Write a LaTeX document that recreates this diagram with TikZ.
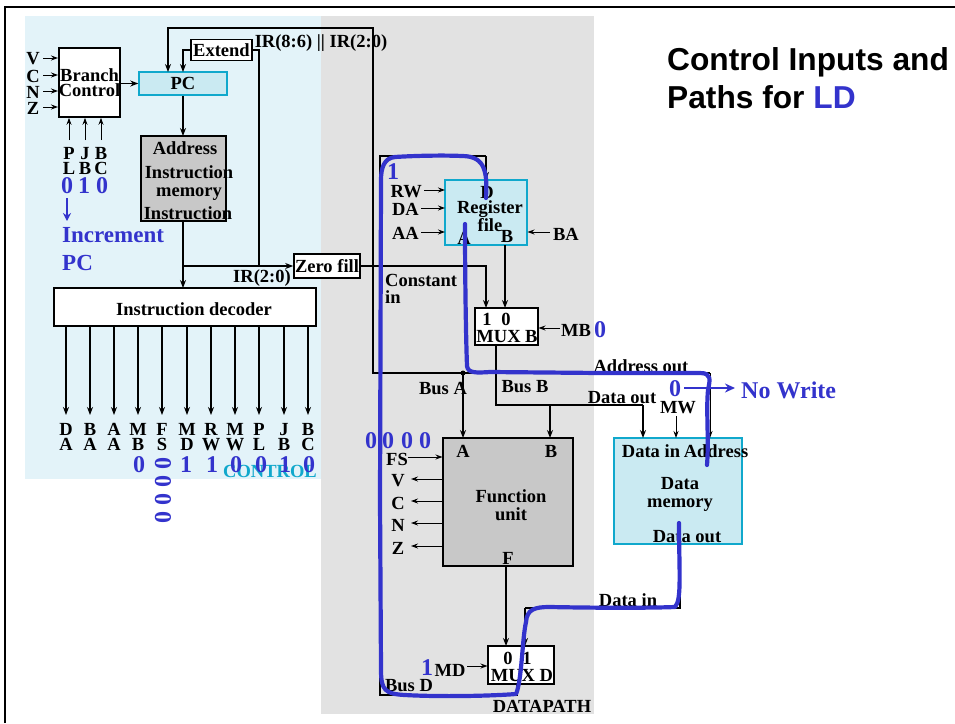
\documentclass[tikz,border=0pt]{standalone}
\usepackage{fontspec}
\setmainfont{Liberation Serif}
\newfontfamily\headfont{Liberation Sans}
\usetikzlibrary{arrows.meta}
\definecolor{ctlblue}{HTML}{E3F3F9}
\definecolor{dpgrey}{HTML}{E2E2E2}
\definecolor{regfill}{HTML}{CAEAF2}
\definecolor{regline}{HTML}{10A8CC}
\definecolor{memgrey}{HTML}{C8C8C8}
\definecolor{pen}{HTML}{3333CC}
\newcommand{\lab}{\fontsize{18.5}{15}\selectfont\bfseries}
\newcommand{\labwide}{\fontsize{18.5}{18}\selectfont\bfseries}
\newcommand{\digit}{\fontsize{24}{24}\selectfont\bfseries}
\tikzset{
   every node/.style={inner sep=0, font=\lab, align=center},
   box/.style={draw, line width=1.6, fill=white},
   greybox/.style={draw, line width=1.6, fill=memgrey, font=\labwide},
   regbox/.style={draw=regline, line width=1.5, fill=regfill, font=\labwide},
   wire/.style={line width=1.3, -{Stealth[length=8,width=6]}},
   plain/.style={line width=1.3},
   thin wire/.style={line width=1, -{Stealth[length=7,width=5]}},
   mark pen/.style={draw=pen, line width=4.2, line cap=round, line join=round},
   pentext/.style={text=pen, font=\digit},
}
\begin{document}
\begin{tikzpicture}[x=1pt, y=-1pt]
   \useasboundingbox (0,0) rectangle (955,723);
   % Backgrounds and frame
   \fill[ctlblue] (25,16) rectangle (321,479);
   \fill[dpgrey] (321,16) rectangle (594,714);
   \draw[line width=2.6] (5,723) -- (5,7) -- (955,7);

   % Control blocks
   \node[box, minimum width=61, minimum height=69] (branch) at (89.5,82.5) {Branch\\Control};
   \node[regbox, font=\lab, minimum width=88, minimum height=23] (pc) at (183,83.5) {PC};
   \node[box, minimum width=61, minimum height=21] (extend) at (221.5,50) {Extend};
   \node[greybox, minimum width=85, minimum height=85] (imem) at (183.5,178.5) {};
   \node (imemaddr) at (185,148) {Address};
   \node[font=\labwide] (imemname) at (189,183) {Instruction\\memory};
   \node (imeminstr) at (188,213) {Instruction};
   \node[box, minimum width=262, minimum height=38] (decoder) at (185,307) {};
   \node (decodername) at (194,309) {Instruction decoder};
   \node[box, minimum width=66, minimum height=24] (zerofill) at (327,266) {Zero fill};

   % Datapath blocks
   \node[regbox, minimum width=82, minimum height=65] (regfile) at (486,212.5) {};
   \node[font=\labwide] (regname) at (490,216) {Register\\file};
   \node (regd) at (487,192) {D};
   \node (rega) at (464,238) {A};
   \node (regb) at (507,236) {B};
   \node[box, minimum width=63, minimum height=37] (muxb) at (506.5,326.5) {};
   \node (muxbone) at (487,319) {1};
   \node (muxbzero) at (506,319) {0};
   \node (muxbname) at (507,337) {MUX B};
   \node[greybox, minimum width=130, minimum height=128] (fu) at (508,502) {};
   \node[font=\labwide] (funame) at (511,505) {Function\\unit};
   \node (fua) at (463,451) {A};
   \node (fub) at (551,451) {B};
   \node (fuf) at (508,558) {F};
   \node[regbox, minimum width=128, minimum height=106] (dmem) at (678,491) {};
   \node (dmemin) at (651,451) {Data in};
   \node (dmemaddr) at (716,451) {Address};
   \node[font=\labwide] (dmemname) at (680,494) {Data\\memory};
   \node (dmemout) at (687,537) {Data out};
   \node[box, minimum width=66, minimum height=38] (muxd) at (521,665) {};
   \node (muxdzero) at (508,658) {0};
   \node (muxdone) at (527,658) {1};
   \node (muxdname) at (522,676) {MUX D};

   % Branch control inputs
   \foreach \s/\y in {V/58,C/75,N/91,Z/107} {
      \node (in\s) at (33,\y+1) {\s};
      \draw[thin wire] (43,\y) -- (branch.west |- 0,\y);
   }
   \foreach \a/\b/\x in {P/L/69,J/B/85,B/C/101} {
      \node (ctl\a) at (\x,161) {\a\\\b};
      \draw[thin wire] (ctl\a.north |- 0,140) -- (ctl\a.north |- branch.south);
   }

   % Decoder outputs
   \foreach \a/\b/\x in {D/A/66,B/A/90,A/A/114,M/B/138,F/S/162,M/D/187,R/W/211,M/W/235,P/L/259,J/B/284,B/C/308} {
      \node (sig\x) at (\x,437) {\a\\\b};
      \draw[wire] (sig\x.center |- decoder.south) -- (sig\x.center |- 0,415);
   }

   % Wires of the control part
   \coordinate (exttap) at (259,50);
   \coordinate (irtap) at (259,266);
   \coordinate (imemtap) at (183,266);
   \coordinate (busa) at (463,373);
   \draw[wire] (branch.east |- pc.west) -- (pc.west);
   \draw[wire] (busa) -- (373,373) -- (373,28) -- (168,28) -- (168,72);
   \draw[wire] (extend.west) -- (183,50) -- (183,72);
   \draw[plain] (extend.east) -- (exttap) -- (irtap);
   \draw[wire] (pc.south) -- (183,136);
   \draw[wire] (183,221) -- (183,288);
   \draw[wire] (imemtap) -- (zerofill.west);

   % Wires of the datapath
   \draw[wire] (zerofill.east) -- (486,266) -- (486,308);
   \draw[wire] (505,245) -- (505,308);
   \draw[plain] (496,345) -- (496,405) -- (643,405);
   \draw[wire] (550,405) -- (550,438);
   \draw[wire] (643,405) -- (643,438);
   \fill (busa) circle (2.5);
   \draw[wire] (busa) -- (463,438);
   \draw[plain] (busa) -- (710,373);
   \draw[thin wire] (710,373) -- (710,438);
   \draw[thin wire] (676,416) -- (676,438);
   \draw[wire] (506,566) -- (506,646);
   \draw[plain] (680,544) -- (680,608) -- (525,608);
   \draw[wire] (525,608) -- (525,646);
   \draw[plain] (517,684) -- (517,695) -- (380,695) -- (380,156) -- (486,156);
   \draw[wire] (486,156) -- (486,180);

   % Datapath signals
   \foreach \s/\y/\x in {RW/190/424,DA/208/421,AA/232/421} {
      \node[anchor=east] (dp\s) at (\x-2,\y+1.5) {\s};
      \draw[thin wire] (\x,\y) -- (445,\y);
   }
   \node (dpBA) at (566,234) {BA};
   \draw[thin wire] (550,232) -- (527.5,232);
   \node (dpMB) at (576,330) {MB};
   \draw[thin wire] (560,328) -- (538.5,328);
   \node (dpMW) at (678,408) {MW};
   \node (dpMD) at (450,670) {MD};
   \draw[thin wire] (467,666) -- (487.5,666);
   \node (dpFS) at (397,459) {FS};
   \draw[thin wire] (408,457) -- (442.5,457);
   \foreach \s/\y in {V/479,C/501,N/523,Z/546} {
      \node (out\s) at (398,\y+2) {\s};
      \draw[thin wire] (443,\y) -- (411,\y);
   }

   % Wire names
   \node (lbir) at (321,43) {IR(8:6) || IR(2:0)};
   \node (lbirlow) at (262,278) {IR(2:0)};
   \node[align=left, anchor=west] (lbconst) at (385,289) {Constant\\[2pt]in};
   \node (lbbusa) at (443,388) {Bus A};
   \node (lbbusb) at (525,387) {Bus B};
   \node (lbaddr) at (641,366) {Address out};
   \node (lbdata) at (622,398) {Data out};
   \node (lbdatain) at (628,600) {Data in};
   \node (lbbusd) at (409,686) {Bus D};
   \node (lbdatapath) at (542,706) {DATAPATH};
   \node[text=regline] (lbcontrol) at (270,471) {CONTROL};

   % Marked values
   \foreach \d/\x/\y in {0/67/186,1/84/186,0/102/186,0/139/465,1/186/465,1/212/465,0/236/465,0/261/465,1/285/465,0/309/465,1/393/172,0/371/441,0/388/441,0/407/441,0/425/441,0/600/330,1/427/668,0/675/389} {
      \node[pentext] (val\x) at (\x,\y) {\d};
   }
   \foreach \y in {463,481,499,517} {
      \node[pentext, rotate=90] (fsval\y) at (163,\y) {0};
   }
   \draw[draw=pen, line width=2.4, -{Stealth[length=8,width=8]}] (val67.south |- 0,198) -- (val67.south |- 0,221);
   \draw[draw=pen, line width=2.6, -{Stealth[length=10,width=9]}] (684,388) -- (735,388);
   \node[pentext, font=\fontsize{23}{28}\selectfont\bfseries, align=left, anchor=north west] (lbinc) at (62,227) {Increment\\PC};
   \node[pentext, anchor=west] (lbwrite) at (741,390) {No Write};

   % Heading
   \node[anchor=north west, align=left, font=\headfont\fontsize{31.7}{38}\selectfont\bfseries] (title) at (667,47) {Control Inputs and\\Paths for \textcolor{pen}{LD}};

   % Pen strokes
   \draw[mark pen] (486,198) .. controls (487,175) and (487,156) .. (462,156)
      .. controls (440,155) and (410,156) .. (395,157)
      .. controls (384,158) and (381,168) .. (381,180)
      -- (380,500) -- (381,670)
      .. controls (381,690) and (385,694) .. (405,695)
      .. controls (440,697) and (490,696) .. (516,694)
      .. controls (522,680) and (522,640) .. (526,622)
      .. controls (527,609) and (535,607) .. (550,607)
      .. controls (600,608) and (650,608) .. (675,607)
      .. controls (682,600) and (679,570) .. (679,523);
   \draw[mark pen] (465,224) .. controls (465,280) and (466,340) .. (467,366)
      .. controls (468,373) and (475,373) .. (490,372)
      -- (600,373) -- (700,373)
      .. controls (712,373) and (710,380) .. (708,390)
      .. controls (706,410) and (709,440) .. (707,465);
\end{tikzpicture}
\end{document}
